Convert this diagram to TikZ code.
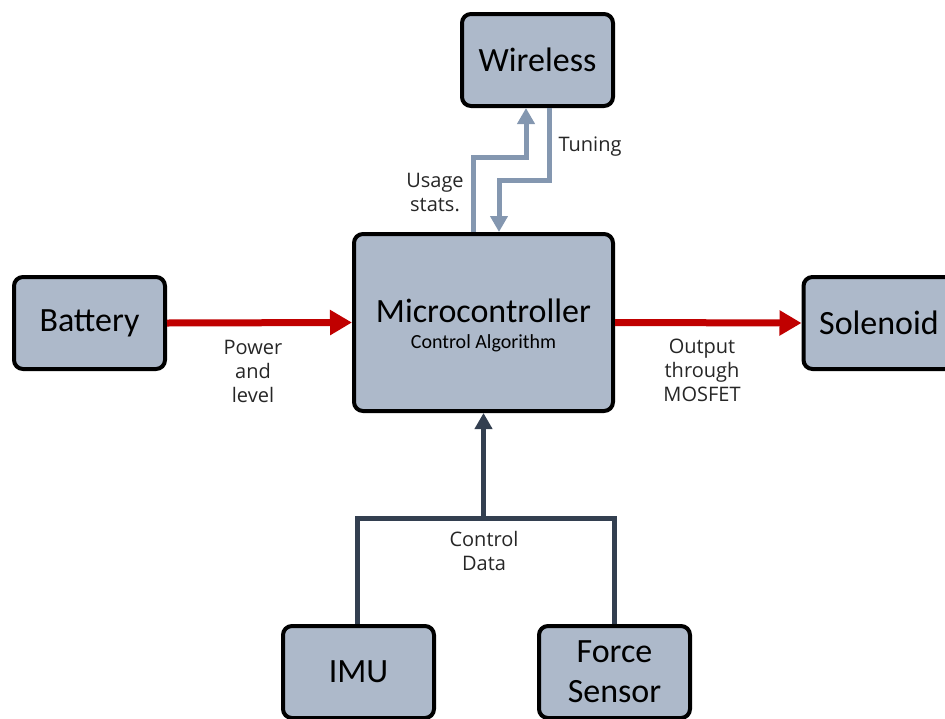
\documentclass[tikz,border=0pt]{standalone}
\usepackage{fontspec}
\setmainfont{Carlito}
\newfontfamily\labelfont{Open Sans}
\usetikzlibrary{arrows.meta}
\definecolor{boxfill}{HTML}{ADB9CA}
\definecolor{powerred}{HTML}{C00000}
\definecolor{linklight}{HTML}{8497B0}
\definecolor{datadark}{HTML}{333F50}
\definecolor{labeltext}{HTML}{262626}
\begin{document}
\begin{tikzpicture}[x=1pt,y=-1pt,
  block/.style={draw=black, line width=4pt, rounded corners=9pt, fill=boxfill,
    minimum width=151pt, minimum height=92pt, align=center, font=\fontsize{34}{40}\selectfont},
  powerarrow/.style={draw=powerred, line width=7pt, -{Triangle[length=22pt,width=24pt]}},
  linkarrow/.style={draw=linklight, line width=5pt, -{Triangle[length=16pt,width=17pt]}},
  datalink/.style={draw=datadark, line width=5pt},
  dataarrow/.style={datalink, -{Triangle[length=16pt,width=17pt]}},
  tag/.style={text=labeltext, align=center, font=\labelfont\fontsize{20}{24}\selectfont}]
\useasboundingbox (0,0) rectangle (945,718);

% blocks
\node[block] (wireless) at (537.5,60) {Wireless};
\node[block, minimum width=259pt, minimum height=177pt] (micro) at (483.5,322.5) {};
\node[font=\fontsize{34}{40}\selectfont] (microtitle) at (483.5,311) {Microcontroller};
\node[font=\fontsize{20}{24}\selectfont] (microsub) at (483.5,343) {Control Algorithm};
\node[block] (battery) at (89.5,323) {Battery};
\node[block] (solenoid) at (879,323) {Solenoid};
\node[block] (imu) at (358.5,672) {IMU};
\node[block] (force) at (614.5,672) {Force\\Sensor};

% power path
\draw[powerarrow] (battery.east) -- (micro.west);
\draw[powerarrow] (micro.east) -- (solenoid.west);

% wireless link
\coordinate (u1) at (473,157);
\coordinate (u2) at (526,157);
\coordinate (t1) at (549,180);
\coordinate (t2) at (499,180);
\draw[linkarrow] (micro.north -| u1) -- (u1) -- (u2) -- (wireless.south -| u2);
\draw[linkarrow] (wireless.south -| t1) -- (t1) -- (t2) -- (micro.north -| t2);

% sensor data
\coordinate (j) at (483.5,518);
\draw[datalink] (imu.north -| 357,0) |- (j) -| (force.north);
\draw[dataarrow] (j) -- (micro.south);

% labels
\node[tag] (lusage) at (435,192) {Usage\\stats.};
\node[tag] (ltuning) at (590,147) {Tuning};
\node[tag] (lpower) at (253,371) {Power\\and\\level};
\node[tag] (loutput) at (702,370) {Output\\through\\MOSFET};
\node[tag] (lctrl) at (484,551) {Control\\Data};
\end{tikzpicture}
\end{document}
